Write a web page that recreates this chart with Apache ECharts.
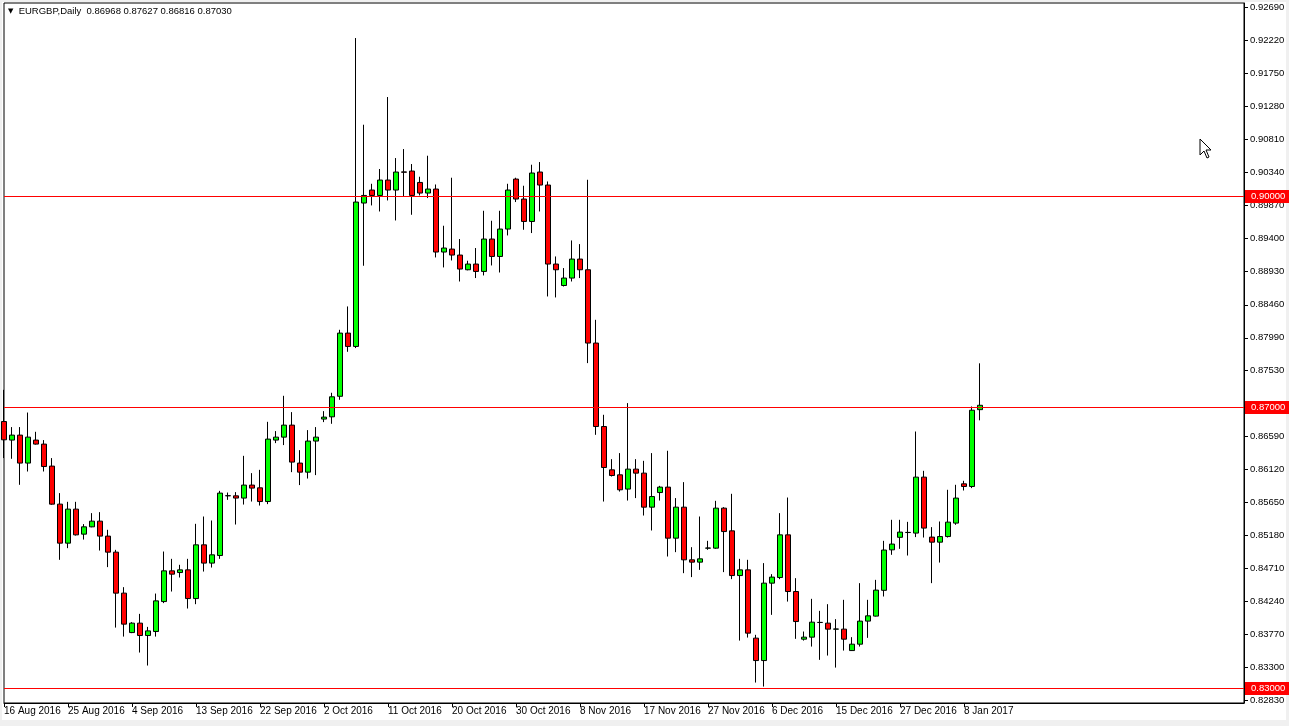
<!DOCTYPE html>
<html>
<head>
<meta charset="utf-8">
<script src="https://cdn.jsdelivr.net/npm/echarts@6/dist/echarts.min.js"></script>
<style>
html,body{margin:0;padding:0;background:#f0f0f0;}
#c{width:1289px;height:726px;}
</style>
</head>
<body>
<div id="c"></div>
<script>
// ---------- data ----------
const symbolName = 'EURGBP,Daily';
const lastQuote = [0.86968, 0.87627, 0.86816, 0.87030]; // O H L C shown in header

const dates = [
 '16 Aug 2016','17 Aug 2016','18 Aug 2016','19 Aug 2016','21 Aug 2016','22 Aug 2016','23 Aug 2016','24 Aug 2016',
 '25 Aug 2016','26 Aug 2016','28 Aug 2016','29 Aug 2016','30 Aug 2016','31 Aug 2016','1 Sep 2016','2 Sep 2016',
 '4 Sep 2016','5 Sep 2016','6 Sep 2016','7 Sep 2016','8 Sep 2016','9 Sep 2016','11 Sep 2016','12 Sep 2016',
 '13 Sep 2016','14 Sep 2016','15 Sep 2016','16 Sep 2016','18 Sep 2016','19 Sep 2016','20 Sep 2016','21 Sep 2016',
 '22 Sep 2016','23 Sep 2016','25 Sep 2016','26 Sep 2016','27 Sep 2016','28 Sep 2016','29 Sep 2016','30 Sep 2016',
 '2 Oct 2016','3 Oct 2016','4 Oct 2016','5 Oct 2016','6 Oct 2016','7 Oct 2016','9 Oct 2016','10 Oct 2016',
 '11 Oct 2016','12 Oct 2016','13 Oct 2016','14 Oct 2016','16 Oct 2016','17 Oct 2016','18 Oct 2016','19 Oct 2016',
 '20 Oct 2016','21 Oct 2016','23 Oct 2016','24 Oct 2016','25 Oct 2016','26 Oct 2016','27 Oct 2016','28 Oct 2016',
 '30 Oct 2016','31 Oct 2016','1 Nov 2016','2 Nov 2016','3 Nov 2016','4 Nov 2016','6 Nov 2016','7 Nov 2016',
 '8 Nov 2016','9 Nov 2016','10 Nov 2016','11 Nov 2016','13 Nov 2016','14 Nov 2016','15 Nov 2016','16 Nov 2016',
 '17 Nov 2016','18 Nov 2016','20 Nov 2016','21 Nov 2016','22 Nov 2016','23 Nov 2016','24 Nov 2016','25 Nov 2016',
 '27 Nov 2016','28 Nov 2016','29 Nov 2016','30 Nov 2016','1 Dec 2016','2 Dec 2016','4 Dec 2016','5 Dec 2016',
 '6 Dec 2016','7 Dec 2016','8 Dec 2016','9 Dec 2016','11 Dec 2016','12 Dec 2016','13 Dec 2016','14 Dec 2016',
 '15 Dec 2016','16 Dec 2016','18 Dec 2016','19 Dec 2016','20 Dec 2016','21 Dec 2016','22 Dec 2016','23 Dec 2016',
 '27 Dec 2016','28 Dec 2016','29 Dec 2016','30 Dec 2016','3 Jan 2017','4 Jan 2017','5 Jan 2017','6 Jan 2017',
 '8 Jan 2017','9 Jan 2017','10 Jan 2017'
];

const opens = [
 0.86799,0.86535,0.86606,0.86208,0.86535,0.86478,0.86165,0.85624,0.85069,0.85553,
 0.85197,0.85301,0.85382,0.85169,0.84941,0.84358,0.83797,0.83931,0.83755,0.83812,
 0.84238,0.84675,0.84651,0.84689,0.84281,0.85045,0.84785,0.84893,0.85742,0.85742,
 0.85710,0.85895,0.85856,0.85661,0.86535,0.86577,0.86748,0.86208,0.86079,0.86521,
 0.86834,0.86866,0.87158,0.88057,0.87867,0.89907,0.90092,0.90015,0.90234,0.90092,
 0.90350,0.90362,0.90200,0.90049,0.90106,0.89210,0.89252,0.89167,0.88958,0.89039,
 0.88934,0.89395,0.89147,0.89537,0.90248,0.89964,0.89645,0.90348,0.90163,0.89039,
 0.88734,0.88840,0.89110,0.88958,0.87915,0.86728,0.86112,0.86041,0.85838,0.86122,
 0.86065,0.85581,0.85789,0.85866,0.85140,0.85581,0.84832,0.84799,0.84998,0.84998,
 0.85567,0.85244,0.84608,0.84689,0.83718,0.83399,0.84500,0.84580,0.85187,0.84381,
 0.83703,0.83732,0.83940,0.83931,0.83846,0.83846,0.83541,0.83632,0.83960,0.84031,
 0.84398,0.84974,0.85152,0.85220,0.85212,0.86008,0.85155,0.85083,0.85163,0.85354,
 0.85913,0.85875,0.86968
];
const highs = [
 0.87250,0.86720,0.86720,0.86927,0.86653,0.86535,0.86279,0.85781,0.85657,0.85657,
 0.85340,0.85496,0.85510,0.85259,0.84974,0.84443,0.83945,0.84063,0.83878,0.84352,
 0.84950,0.84846,0.84761,0.84846,0.85344,0.85448,0.85391,0.85813,0.85789,0.85795,
 0.86311,0.86065,0.86112,0.86795,0.86663,0.87165,0.86933,0.86392,0.86677,0.86720,
 0.86947,0.87208,0.88104,0.88436,0.92254,0.91021,0.90181,0.90391,0.91415,0.90547,
 0.90675,0.90462,0.90281,0.90580,0.90171,0.89584,0.90267,0.89395,0.89086,0.89267,
 0.89797,0.89655,0.89797,0.90181,0.90267,0.90153,0.90452,0.90490,0.90214,0.89147,
 0.88982,0.89375,0.89323,0.90238,0.88246,0.86895,0.86264,0.86350,0.87061,0.86264,
 0.86240,0.86350,0.85884,0.86383,0.85710,0.85937,0.85012,0.85448,0.85102,0.85671,
 0.85581,0.85771,0.84846,0.84832,0.83765,0.84785,0.84628,0.85496,0.85718,0.84571,
 0.83812,0.84277,0.84106,0.84201,0.83988,0.84263,0.83732,0.84500,0.84263,0.84547,
 0.85102,0.85401,0.85401,0.85372,0.86657,0.86098,0.85297,0.85377,0.85828,0.85899,
 0.85956,0.87013,0.87627
];
const lows = [
 0.86279,0.86269,0.85899,0.86088,0.86470,0.86088,0.85615,0.84832,0.84998,0.85177,
 0.85120,0.85295,0.84964,0.84728,0.83868,0.83740,0.83789,0.83513,0.83328,0.83740,
 0.84216,0.84381,0.84580,0.84139,0.84201,0.84665,0.84722,0.84846,0.85685,0.85334,
 0.85618,0.85661,0.85604,0.85624,0.86492,0.86464,0.86079,0.85895,0.85988,0.86037,
 0.86791,0.86767,0.87108,0.87791,0.87844,0.89015,0.89873,0.89787,0.89944,0.89659,
 0.90001,0.89740,0.90015,0.89978,0.89133,0.88991,0.89090,0.88791,0.88950,0.88840,
 0.88877,0.89019,0.88919,0.89446,0.89921,0.89527,0.89480,0.89787,0.88578,0.88564,
 0.88720,0.88791,0.88840,0.87630,0.86610,0.85661,0.86017,0.85803,0.85675,0.85710,
 0.85462,0.85249,0.85675,0.84879,0.84941,0.84642,0.84586,0.84689,0.84974,0.84988,
 0.84657,0.84557,0.83683,0.83726,0.83086,0.83029,0.84049,0.84557,0.84238,0.83708,
 0.83683,0.83598,0.83409,0.83470,0.83299,0.83541,0.83535,0.83598,0.83722,0.84025,
 0.84310,0.84903,0.84988,0.84893,0.85155,0.85149,0.84500,0.84793,0.85149,0.85330,
 0.85818,0.85852,0.86816
];
const closes = [
 0.86539,0.86606,0.86208,0.86577,0.86478,0.86159,0.85624,0.85069,0.85553,0.85187,
 0.85301,0.85382,0.85169,0.84941,0.84358,0.83917,0.83931,0.83755,0.83821,0.84248,
 0.84675,0.84628,0.84689,0.84281,0.85045,0.84785,0.84903,0.85781,0.85745,0.85710,
 0.85895,0.85852,0.85661,0.86549,0.86577,0.86748,0.86222,0.86079,0.86521,0.86577,
 0.86862,0.87151,0.88057,0.87867,0.89921,0.90015,0.90015,0.90234,0.90092,0.90348,
 0.90345,0.90015,0.90049,0.90106,0.89210,0.89267,0.89167,0.88968,0.89039,0.88934,
 0.89395,0.89147,0.89537,0.90092,0.89964,0.89645,0.90334,0.90163,0.89039,0.88958,
 0.88840,0.89110,0.88958,0.87915,0.86728,0.86145,0.86031,0.85828,0.86122,0.86065,
 0.85581,0.85732,0.85866,0.85140,0.85581,0.84832,0.84799,0.84846,0.85000,0.85567,
 0.85234,0.84608,0.84689,0.83789,0.83399,0.84500,0.84586,0.85187,0.84381,0.83954,
 0.83732,0.83945,0.83942,0.83846,0.83848,0.83703,0.83632,0.83960,0.84035,0.84401,
 0.84971,0.85056,0.85226,0.85222,0.86008,0.85283,0.85083,0.85163,0.85368,0.85710,
 0.85875,0.86960,0.87030
];

const yTickValues = [
 0.92690,0.92220,0.91750,0.91280,0.90810,0.90340,0.89870,0.89400,0.88930,0.88460,
 0.87990,0.87530,0.86590,0.86120,0.85650,0.85180,0.84710,0.84240,0.83770,0.83300,0.82830
];
const levelLines = [0.90000, 0.87000, 0.83000];
const yMin = 0.827952;
const yMax = 0.927525;
const emptySlotsRight = 33; // chart shift: empty bar slots to the right of the last bar
const labelEvery = 8;       // one date label every 8 bars

// ---------- build ----------
const FONT = '"Liberation Sans", Arial, "DejaVu Sans", sans-serif';
const axisCats = dates.concat(new Array(emptySlotsRight).fill(''));
const ohlc = dates.map((d, i) => [opens[i], closes[i], lows[i], highs[i]]);
const labelFn = (idx, val) => idx % labelEvery === 0 && val !== '';

const chart = echarts.init(document.getElementById('c'), null, {renderer: 'canvas'});
chart.setOption({
  animation: false,
  backgroundColor: '#f0f0f0',
  graphic: [
    {type: 'rect', z: -10, shape: {x: 2, y: 2, width: 1284, height: 718}, style: {fill: '#ffffff'}},
    {type: 'polygon', z: 100,
     shape: {points: [[1200,139],[1200,155],[1204,151],[1207,158],[1209,157],[1206,150],[1211,150]]},
     style: {fill: '#ffffff', stroke: '#000000', lineWidth: 1}}
  ],
  title: {
    left: 8, top: 6, padding: 0,
    text: '{t|▼}  ' + symbolName + '  ' + lastQuote.map(v => v.toFixed(5)).join(' '),
    textStyle: {
      fontSize: 9.5, fontWeight: 'normal', color: '#000', fontFamily: FONT,
      rich: {t: {fontSize: 7, color: '#000', fontFamily: '"DejaVu Sans", sans-serif'}}
    }
  },
  grid: {
    left: 4, top: 3, width: 1240, height: 700,
    show: true, backgroundColor: '#ffffff', borderColor: '#000000', borderWidth: 1,
    containLabel: false
  },
  xAxis: {
    type: 'category',
    data: axisCats,
    boundaryGap: false,
    axisLine: {show: true, lineStyle: {color: '#000', width: 1}},
    axisTick: {show: true, interval: labelFn, length: 4, lineStyle: {color: '#000'}},
    axisLabel: {interval: labelFn, align: 'left', margin: 3, padding: [0, 0, 0, 0],
                fontSize: 10, color: '#000', fontFamily: FONT},
    splitLine: {show: false}
  },
  yAxis: {
    type: 'value',
    position: 'right',
    min: yMin,
    max: yMax,
    splitLine: {show: false},
    axisLine: {show: true, lineStyle: {color: '#000', width: 1}},
    axisTick: {show: true, length: 4, customValues: yTickValues, lineStyle: {color: '#000'}},
    axisLabel: {customValues: yTickValues, formatter: v => v.toFixed(5), margin: 6,
                fontSize: 9.5, color: '#000', fontFamily: FONT}
  },
  series: [
    {
      type: 'candlestick',
      data: ohlc,
      barWidth: 5,
      silent: true,
      itemStyle: {
        color: '#00ff00', color0: '#ff0000',
        borderColor: '#000000', borderColor0: '#000000', borderColorDoji: '#000000',
        borderWidth: 1
      }
    },
    {
      type: 'line',
      data: [],
      clip: false,
      silent: true,
      markLine: {
        silent: true,
        animation: false,
        symbol: ['none', 'none'],
        lineStyle: {color: '#ff0000', width: 1, type: 'solid'},
        label: {
          show: true, position: 'end', distance: 1,
          formatter: p => Number(p.value).toFixed(5),
          color: '#ffffff', backgroundColor: '#ff0000',
          fontSize: 9.5, fontFamily: FONT, padding: [2, 6, 1, 6]
        },
        emphasis: {disabled: true},
        data: levelLines.map(v => ({yAxis: v}))
      }
    }
  ]
});
</script>
</body>
</html>
